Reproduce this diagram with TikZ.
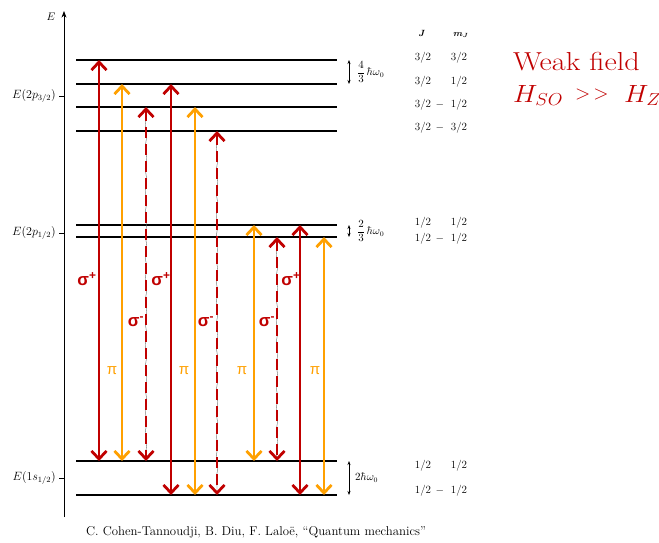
\documentclass[tikz,border=0pt]{standalone}
\usepackage{fontspec}
\usepackage{amsmath}
\usepackage{graphicx}
\newfontfamily\labelfont{Liberation Sans}
\usetikzlibrary{arrows.meta,decorations.pathmorphing}
\definecolor{sigred}{RGB}{192,0,0}
\definecolor{piorange}{RGB}{255,160,0}
\tikzset{
  level/.style={line width=1.3pt},
  trans/.style={line width=2.8pt,{Straight Barb[length=8pt,width=15pt]}-{Straight Barb[length=8pt,width=15pt]}},
  sigp/.style={trans,sigred},
  sigm/.style={trans,sigred,dash pattern=on 11pt off 6pt},
  pil/.style={trans,piorange},
  wig/.style={black!60,line width=0.4pt,decorate,decoration={snake,amplitude=0.8pt,segment length=22pt}},
  sglabel/.style={text=sigred,font=\labelfont\bfseries\fontsize{17}{17}\selectfont,inner sep=0pt},
  pilabel/.style={text=piorange,font=\labelfont\fontsize{15}{15}\selectfont,inner sep=0pt},
  qn/.style={font=\fontsize{11}{13}\selectfont,inner sep=0pt},
  elevel/.style={left,inner sep=1pt,font=\fontsize{11.5}{13}\selectfont},
  split/.style={right,inner sep=0pt,font=\fontsize{10.5}{12}\selectfont},
  gap/.style={line width=0.6pt,{Stealth[length=4pt,width=3pt]}-{Stealth[length=4pt,width=3pt]}},
  title/.style={anchor=base west,inner sep=0pt,text=sigred,font=\fontsize{26}{30}\selectfont},
}
\begin{document}
\begin{tikzpicture}[x=1pt,y=-1pt,>=Stealth]
  \useasboundingbox (0,0) rectangle (659,542);
  \coordinate (O) at (64,517);
  \coordinate (Etop) at (64,11);
  \foreach \n/\y in {a1/60,a2/84,a3/107,a4/131,b1/225,b2/237,g1/461,g2/495}{
    \coordinate (\n) at (76,\y);
    \coordinate (\n e) at (337,\y);
    \draw[level] (\n) -- (\n e);
  }
  \draw[->,line width=0.8pt] (O) -- (Etop);
  \node[font=\fontsize{11}{12}\selectfont] (elab) at (51,17) {$E$};
  \draw[line width=0.6pt] (59,96) -- (64,96);
  \draw[line width=0.6pt] (59,233) -- (64,233);
  \draw[line width=0.6pt] (59,478) -- (64,478);
  \node[elevel] (p32) at (57,96) {$E(2p_{3/2})$};
  \node[elevel] (p12) at (57,233) {$E(2p_{1/2})$};
  \node[elevel] (s12) at (57,478) {$E(1s_{1/2})$};
  \foreach \x/\a/\b in {146/a3/g1,217/a4/g2,277/b2/g1}
    \draw[wig] (\x,0 |- \a) -- (\x,0 |- \b);
  \foreach \x/\a/\b/\st in {99/a1/g1/sigp,122/a2/g1/pil,146/a3/g1/sigm,171/a2/g2/sigp,195/a3/g2/pil,
                            217/a4/g2/sigm,254/b1/g1/pil,277/b2/g1/sigm,300/b1/g2/sigp,324/b2/g2/pil}
    \draw[\st] (\x,0 |- \a) -- (\x,0 |- \b);
  \foreach \x/\n in {87/sp1,161/sp2,291/sp3}
    \node[sglabel] (\n) at (\x,279) {σ\textsuperscript{+}};
  \foreach \x/\n in {136/sm1,206/sm2,267/sm3}
    \node[sglabel] (\n) at (\x,322) {σ\textsuperscript{-}};
  \foreach \x/\n in {112/pi1,184/pi2,242/pi3,315/pi4}
    \node[pilabel] (\n) at (\x,371) {π};
  \draw[gap] (349,0 |- a1) -- (349,0 |- a2);
  \draw[gap] (349,0 |- b1) -- (349,0 |- b2);
  \draw[gap] (349,0 |- g1) -- (349,0 |- g2);
  \node[split] (w1) at (357,72) {$\dfrac{4}{3}\,\hbar\omega_0$};
  \node[split] (w2) at (357,231) {$\dfrac{2}{3}\,\hbar\omega_0$};
  \node[split] (w3) at (355,478) {$2\hbar\omega_0$};
  \node[qn,font=\fontsize{9}{10}\selectfont] (hj) at (422,33) {$\boldsymbol{J}$};
  \node[qn,font=\fontsize{9}{10}\selectfont] (hm) at (461,35) {$\boldsymbol{m_J}$};
  \foreach \n/\y/\jv/\mv/\sg in {r1/58/{3/2}/{3/2}/{},r2/82/{3/2}/{1/2}/{},r3/105/{3/2}/{1/2}/{$-$},
                                 r4/128/{3/2}/{3/2}/{$-$},r5/223/{1/2}/{1/2}/{},r6/239/{1/2}/{1/2}/{$-$},
                                 r7/466/{1/2}/{1/2}/{},r8/491/{1/2}/{1/2}/{$-$}}{
    \node[qn] (\n j) at (423,\y) {\jv};
    \node[qn] (\n m) at (459,\y) {\mv};
    \node[qn] (\n s) at (440,\y) {\sg};
  }
  \node[title] (weak) at (513,70) {\scalebox{1.16}[1]{Weak field}};
  \node[title] (hso) at (513,102) {\scalebox{1.1}[1]{$H_{SO}$}};
  \node[title,font=\fontsize{20}{30}\selectfont] (gg) at (575,99) {>\hspace{3pt}>};
  \node[title] (hz) at (624,102) {\scalebox{1.1}[1]{$H_Z$}};
  \node[anchor=base,inner sep=0pt,font=\fontsize{12.8}{14}\selectfont] (cite) at (256,535)
    {C. Cohen-Tannoudji, B. Diu, F. Laloë, “Quantum mechanics”};
\end{tikzpicture}
\end{document}
